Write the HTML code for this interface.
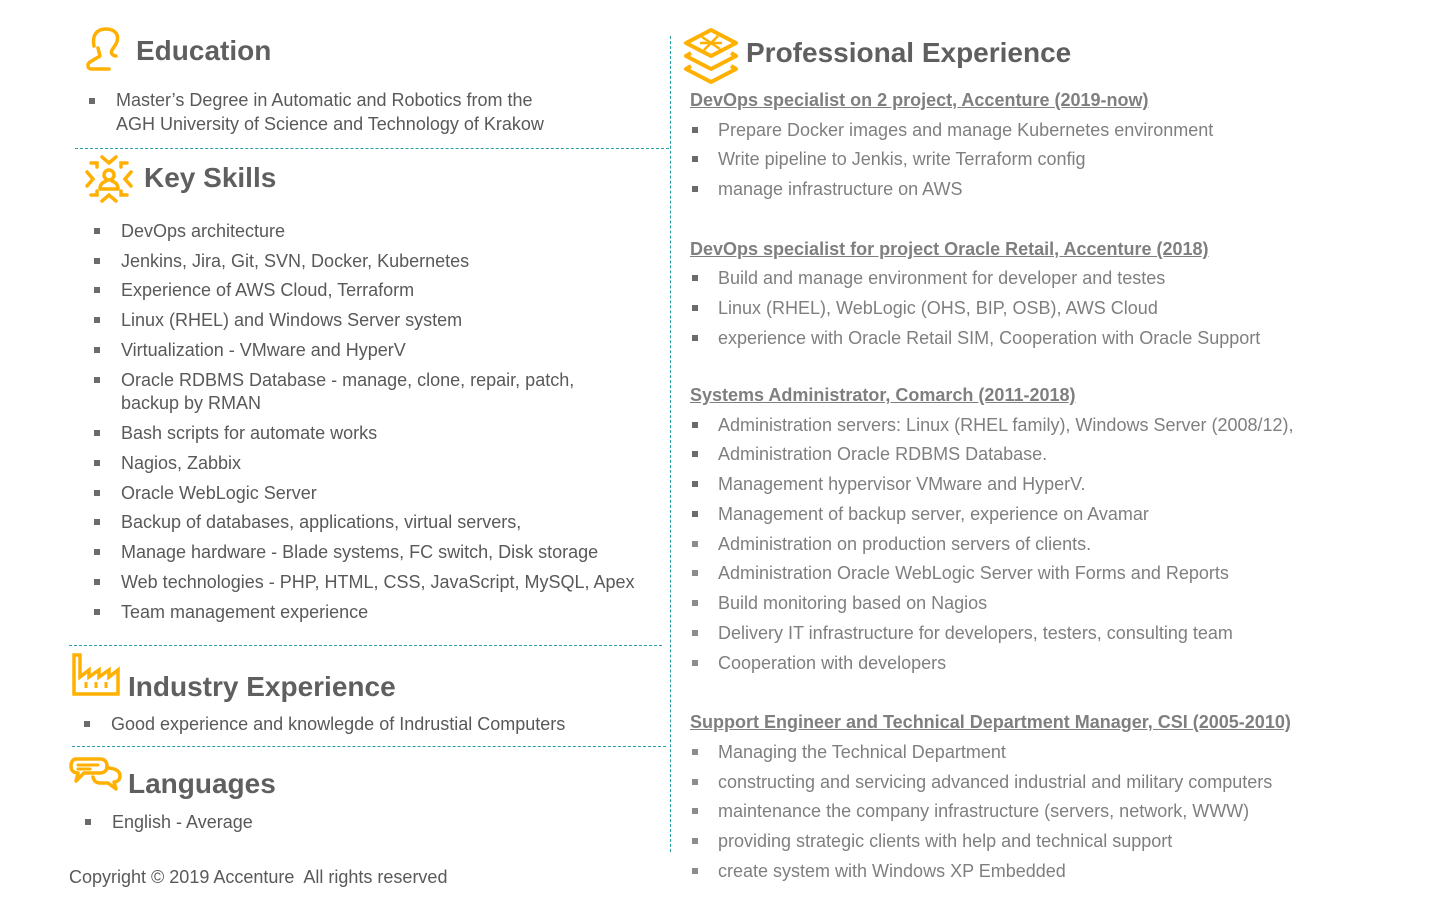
<!DOCTYPE html>
<html><head><meta charset="utf-8"><style>
body{margin:0;width:1434px;height:915px;background:#fff;position:relative;overflow:hidden;font-family:"Liberation Sans",Arial,sans-serif}
.t{position:absolute;font-size:18px;line-height:22px;white-space:nowrap;color:#595959;margin-top:1px}
.r{color:#7f7f7f}
.b{position:absolute;width:6px;height:6px;background:#6b6b6b;margin-top:1px}
.br{background:#8c8c8c}
.h{position:absolute;font-weight:bold;font-size:28px;line-height:32px;color:#5f5f5f;white-space:nowrap;margin-top:1px}
.j{position:absolute;font-weight:bold;font-size:18px;line-height:20px;color:#7f7f7f;text-decoration:underline;white-space:nowrap;margin-top:1px}
.hl{position:absolute;border-top:1.5px dashed #2a9ea6;height:0}
.vl{position:absolute;border-left:1.5px dashed #2a9ea6;width:0}
</style></head><body>
<div class="vl" style="left:670px;top:36px;height:816px"></div>
<div class="hl" style="left:75px;top:148px;width:594px"></div>
<div class="hl" style="left:69px;top:645px;width:593px"></div>
<div class="hl" style="left:72px;top:746px;width:594px"></div>

<svg style="position:absolute;left:84px;top:26px" width="40" height="46" viewBox="0 0 40 46" fill="none" stroke="#ffb000" stroke-width="3.5" stroke-linecap="round" stroke-linejoin="round">
<path d="M10 20 C8 10 12 3 22 3 C32 3 36 10 32 18 L28 24 C26 28 30 30 32 30 M14 22 L16 30 L6 36 C3 38 3 43 8 43 L25 43"/></svg>
<svg style="position:absolute;left:83px;top:153px" width="52" height="52" viewBox="0 0 52 52" fill="none" stroke="#ffb000" stroke-width="3.5" stroke-linecap="round">
<path d="M19 4 L26 10 L33 4 M19 48 L26 42 L33 48 M4 19 L10 26 L4 33 M48 19 L42 26 L48 33 M8 10 L14 10 L14 14 M44 10 L38 10 L38 14 M8 42 L14 42 L14 38 M44 42 L38 42 L38 38"/>
<circle cx="26" cy="22" r="5"/><path d="M17 36 C17 30 21 29 23 28 M35 36 C35 30 31 29 29 28 M17 36 L35 36"/></svg>
<svg style="position:absolute;left:682px;top:26px" width="58" height="58" viewBox="0 0 58 58" fill="none" stroke="#ffb000" stroke-width="4" stroke-linejoin="round">
<path d="M29 4 L54 17 L29 30 L4 17 Z"/><path d="M9 27 L4 30 L29 43 L54 30 L49 27"/><path d="M9 40 L4 43 L29 56 L54 43 L49 40"/>
<path d="M20 11 L38 23 M36 10 L22 24 M18 17 L40 17" stroke-width="2.5"/></svg>
<svg style="position:absolute;left:71px;top:652px" width="50" height="45" viewBox="0 0 50 45" fill="none" stroke="#ffb000" stroke-width="3.5">
<path d="M3 42 L3 3 L9 3 L9 25 L18 18 L18 25 L28 18 L28 25 L38 18 L38 25 L47 18 L47 42 Z"/>
<path d="M15 30 L15 36 M25 30 L25 36 M35 30 L35 36" stroke-width="3"/></svg>
<svg style="position:absolute;left:68px;top:756px" width="56" height="38" viewBox="0 0 56 38" fill="none" stroke="#ffb000" stroke-width="3.5" stroke-linejoin="round" stroke-linecap="round">
<path d="M8 3 L32 3 C37 3 39 6 39 10 C39 15 36 17 32 17 L16 17 L8 25 L10 17 C5 17 3 14 3 10 C3 6 5 3 8 3 Z"/>
<path d="M10 9 L30 9 M10 13 L22 13" stroke-width="3"/>
<path d="M39 12 C47 12 52 15 52 20 C52 24 49 26 46 26 L48 33 L40 27 L32 27 C28 27 26 25 25 21"/></svg>

<div class="h" style="left:136px;top:34px">Education</div>
<div class="h" style="left:144px;top:161px">Key Skills</div>
<div class="h" style="left:128px;top:670px">Industry Experience</div>
<div class="h" style="left:128px;top:767px">Languages</div>

<div class="b" style="left:89px;top:97px"></div>
<div class="t" style="left:116px;top:88px">Master’s Degree in Automatic and Robotics from the</div>
<div class="t" style="left:116px;top:112px">AGH University of Science and Technology of Krakow</div>

<div class="b" style="left:94px;top:227px"></div><div class="t" style="left:121px;top:219px">DevOps architecture</div>
<div class="b" style="left:94px;top:257px"></div><div class="t" style="left:121px;top:249px">Jenkins, Jira, Git, SVN, Docker, Kubernetes</div>
<div class="b" style="left:94px;top:286px"></div><div class="t" style="left:121px;top:278px">Experience of AWS Cloud, Terraform</div>
<div class="b" style="left:94px;top:316px"></div><div class="t" style="left:121px;top:308px">Linux (RHEL) and Windows Server system</div>
<div class="b" style="left:94px;top:346px"></div><div class="t" style="left:121px;top:338px">Virtualization - VMware and HyperV</div>
<div class="b" style="left:94px;top:376px"></div><div class="t" style="left:121px;top:368px">Oracle RDBMS Database - manage, clone, repair, patch,</div>
<div class="t" style="left:121px;top:391px">backup by RMAN</div>
<div class="b" style="left:94px;top:429px"></div><div class="t" style="left:121px;top:421px">Bash scripts for automate works</div>
<div class="b" style="left:94px;top:459px"></div><div class="t" style="left:121px;top:451px">Nagios, Zabbix</div>
<div class="b" style="left:94px;top:489px"></div><div class="t" style="left:121px;top:481px">Oracle WebLogic Server</div>
<div class="b" style="left:94px;top:518px"></div><div class="t" style="left:121px;top:510px">Backup of databases, applications, virtual servers,</div>
<div class="b" style="left:94px;top:548px"></div><div class="t" style="left:121px;top:540px">Manage hardware - Blade systems, FC switch, Disk storage</div>
<div class="b" style="left:94px;top:578px"></div><div class="t" style="left:121px;top:570px">Web technologies - PHP, HTML, CSS, JavaScript, MySQL, Apex</div>
<div class="b" style="left:94px;top:608px"></div><div class="t" style="left:121px;top:600px">Team management experience</div>

<div class="b" style="left:84px;top:720px"></div><div class="t" style="left:111px;top:712px">Good experience and knowlegde of Indrustial Computers</div>
<div class="b" style="left:85px;top:818px"></div><div class="t" style="left:112px;top:810px">English - Average</div>
<div class="t" style="left:69px;top:865px">Copyright © 2019 Accenture&nbsp; All rights reserved</div>

<div class="h" style="left:746px;top:36px">Professional Experience</div>

<div class="j" style="left:690px;top:89px">DevOps specialist on 2 project, Accenture (2019-now)</div>
<div class="b" style="left:692px;top:126px"></div><div class="t r" style="left:718px;top:118px">Prepare Docker images and manage Kubernetes environment</div>
<div class="b" style="left:692px;top:155px"></div><div class="t r" style="left:718px;top:147px">Write pipeline to Jenkis, write Terraform config</div>
<div class="b" style="left:692px;top:185px"></div><div class="t r" style="left:718px;top:177px">manage infrastructure on AWS</div>

<div class="j" style="left:690px;top:238px">DevOps specialist for project Oracle Retail, Accenture (2018)</div>
<div class="b" style="left:692px;top:274px"></div><div class="t r" style="left:718px;top:266px">Build and manage environment for developer and testes</div>
<div class="b" style="left:692px;top:304px"></div><div class="t r" style="left:718px;top:296px">Linux (RHEL), WebLogic (OHS, BIP, OSB), AWS Cloud</div>
<div class="b" style="left:692px;top:334px"></div><div class="t r" style="left:718px;top:326px">experience with Oracle Retail SIM, Cooperation with Oracle Support</div>

<div class="j" style="left:690px;top:384px">Systems Administrator, Comarch (2011-2018)</div>
<div class="b" style="left:692px;top:421px"></div><div class="t r" style="left:718px;top:413px">Administration servers: Linux (RHEL family), Windows Server (2008/12),</div>
<div class="b" style="left:692px;top:450px"></div><div class="t r" style="left:718px;top:442px">Administration Oracle RDBMS Database.</div>
<div class="b" style="left:692px;top:480px"></div><div class="t r" style="left:718px;top:472px">Management hypervisor VMware and HyperV.</div>
<div class="b" style="left:692px;top:510px"></div><div class="t r" style="left:718px;top:502px">Management of backup server, experience on Avamar</div>
<div class="b br" style="left:692px;top:540px"></div><div class="t r" style="left:718px;top:532px">Administration on production servers of clients.</div>
<div class="b br" style="left:692px;top:569px"></div><div class="t r" style="left:718px;top:561px">Administration Oracle WebLogic Server with Forms and Reports</div>
<div class="b br" style="left:692px;top:599px"></div><div class="t r" style="left:718px;top:591px">Build monitoring based on Nagios</div>
<div class="b br" style="left:692px;top:629px"></div><div class="t r" style="left:718px;top:621px">Delivery IT infrastructure for developers, testers, consulting team</div>
<div class="b br" style="left:692px;top:659px"></div><div class="t r" style="left:718px;top:651px">Cooperation with developers</div>

<div class="j" style="left:690px;top:711px">Support Engineer and Technical Department Manager, CSI (2005-2010)</div>
<div class="b br" style="left:692px;top:748px"></div><div class="t r" style="left:718px;top:740px">Managing the Technical Department</div>
<div class="b br" style="left:692px;top:778px"></div><div class="t r" style="left:718px;top:770px">constructing and servicing advanced industrial and military computers</div>
<div class="b br" style="left:692px;top:807px"></div><div class="t r" style="left:718px;top:799px">maintenance the company infrastructure (servers, network, WWW)</div>
<div class="b br" style="left:692px;top:837px"></div><div class="t r" style="left:718px;top:829px">providing strategic clients with help and technical support</div>
<div class="b br" style="left:692px;top:867px"></div><div class="t r" style="left:718px;top:859px">create system with Windows XP Embedded</div>
</body></html>
